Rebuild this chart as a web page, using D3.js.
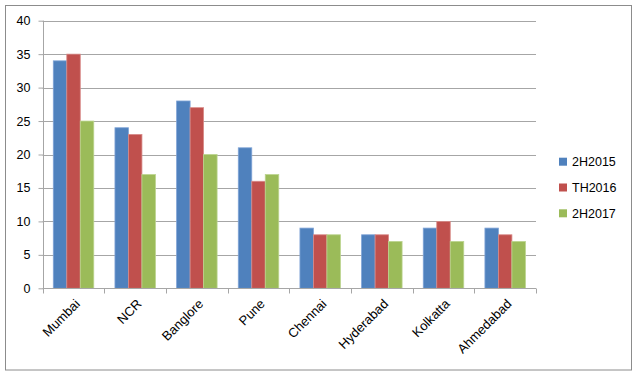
<!DOCTYPE html>
<html><head><meta charset="utf-8">
<script src="https://cdn.jsdelivr.net/npm/d3@7"></script>
<style>body{margin:0;background:#fff}svg{display:block;font-family:"Liberation Sans",Arial,sans-serif}</style>
</head><body><svg id="c" width="637" height="376"></svg>
<script>
const categories = ["Mumbai","NCR","Banglore","Pune","Chennai","Hyderabad","Kolkatta","Ahmedabad"];
const seriesNames = ["2H2015","TH2016","2H2017"];
const s2H2015 = [34,24,28,21,9,8,9,9];
const sTH2016 = [35,23,27,16,8,8,10,8];
const s2H2017 = [25,17,20,17,8,7,7,7];
const yTicks = [0,5,10,15,20,25,30,35,40];
const colors = ["#4F81BD","#C0504D","#9BBB59"];
const strokes = ["#7FA3D6","#D88B89","#BBD48E"];
const seriesValues = [s2H2015, sTH2016, s2H2017];

const svg = d3.select("#c");
svg.append("rect").attr("x",5.5).attr("y",5.5).attr("width",626).attr("height",364.5)
  .attr("fill","#fff").attr("stroke","#8c8c8c").attr("stroke-width",1);

const L=42.7, R=536, T=20.7, B=288.3;
const x = d3.scaleBand().domain(categories).range([L,R]).paddingInner(0).paddingOuter(0);
const x1 = d3.scaleBand().domain(seriesNames).range([0,x.bandwidth()]).paddingInner(0).paddingOuter(0.785);
const y = d3.scaleLinear().domain([0,40]).range([B,T]);

// gridlines
svg.append("g").selectAll("line").data(yTicks.filter(d=>d>0)).join("line")
  .attr("x1",L).attr("x2",R).attr("y1",d=>Math.round(y(d))+0.5).attr("y2",d=>Math.round(y(d))+0.5)
  .attr("stroke","#a6a6a6").attr("stroke-width",1);

// bars
const g = svg.append("g");
seriesNames.forEach((s,si)=>{
  g.append("g").selectAll("rect").data(categories).join("rect")
    .attr("x",c=>x(c)+x1(s)).attr("width",x1.bandwidth())
    .attr("y",(c,i)=>y(seriesValues[si][i])).attr("height",(c,i)=>B-y(seriesValues[si][i]))
    .attr("fill",colors[si]).attr("stroke",strokes[si]).attr("stroke-width",0.8);
});

// y axis
const yAxis = d3.axisLeft(y).tickValues(yTicks).tickSize(5).tickPadding(8);
const ya = svg.append("g").attr("transform",`translate(${Math.round(L)+0.5},0)`).call(yAxis);
ya.select(".domain").attr("stroke","#a6a6a6").attr("d",`M0,${T}V${B}`);
ya.selectAll(".tick line").attr("stroke","#a6a6a6");
ya.selectAll(".tick text").attr("font-size",12.5).attr("fill","#000").attr("font-family","Liberation Sans, Arial, sans-serif");

// x axis
const xa = svg.append("g").attr("transform",`translate(0,${Math.round(B)+0.5})`);
xa.append("line").attr("x1",L).attr("x2",R).attr("stroke","#a6a6a6");
const bounds = categories.map(c=>x(c)).concat([R]);
xa.selectAll("line.tk").data(bounds).join("line").attr("class","tk")
  .attr("x1",d=>Math.round(d)+0.5).attr("x2",d=>Math.round(d)+0.5).attr("y1",0).attr("y2",5).attr("stroke","#a6a6a6");
xa.selectAll("text").data(categories).join("text")
  .attr("transform",c=>`translate(${x(c)+x.bandwidth()/2+4},${13}) rotate(-45)`)
  .attr("text-anchor","end").attr("dy","0.35em").attr("font-size",13).attr("fill","#000").text(c=>c);

// legend
const lg = svg.append("g");
seriesNames.forEach((s,i)=>{
  const cy = 161.7 + i*25.8;
  lg.append("rect").attr("x",559).attr("y",cy-4).attr("width",8).attr("height",8).attr("fill",colors[i]);
  lg.append("text").attr("x",572).attr("y",cy).attr("dy","0.35em").attr("font-size",12.5).attr("fill","#000").text(s);
});
</script></body></html>
